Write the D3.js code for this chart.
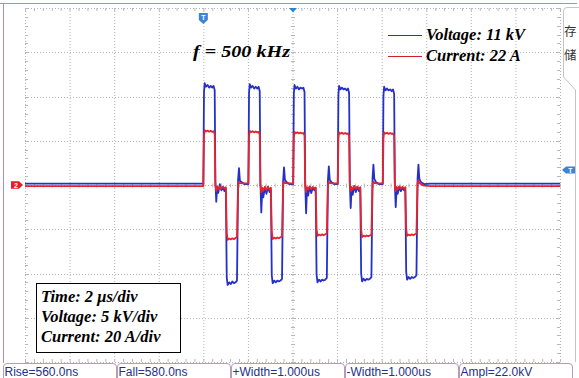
<!DOCTYPE html>
<html>
<head>
<meta charset="utf-8">
<script src="https://cdn.jsdelivr.net/npm/d3@7"></script>
<style>
  body { margin: 0; background: #fff; }
  svg { display: block; }
  .note { font-family: "Liberation Serif", "Times New Roman", serif; font-weight: bold; font-style: italic; font-size: 16.5px; fill: #000; }
  .meas { font-family: "Liberation Sans", Arial, sans-serif; font-size: 12px; fill: #23318a; }
  .cjk { font-family: "Noto Sans CJK SC", sans-serif; font-size: 12.5px; fill: #333; }
</style>
</head>
<body>
<svg id="scope" width="579" height="378"></svg>
<script>
// screen: 12 div x 2 us, 8 div x 5 kV (ch1) / 20 A (ch2)
const timeDomain = [0, 24];
const voltDomain = [-20, 20];
const ampDomain = [-80, 80];

// pulse start times (us) and sample instants inside one period (us after start)
const pulseStarts = [8.00, 10.02, 12.03, 14.03, 16.05];
const dt = [0.00, 0.03, 0.06, 0.12, 0.19, 0.26, 0.33, 0.40, 0.46, 0.51, 0.54, 0.58, 0.62, 0.67, 0.74, 0.81,
            0.88, 0.95, 1.01, 1.05, 1.09, 1.16, 1.23, 1.30, 1.37, 1.44, 1.51, 1.56, 1.60, 1.64, 1.72, 1.85];

// voltage (kV), one row per pulse
const voltagePulses = [
  [0.1, 10.5, 11.5, 11.1, 11.3, 11.0, 11.2, 11.0, 11.2, 10.7, 0.4, -1.9, -0.2, -0.9, 0.1, -0.6, -0.2, -0.7, -0.4, -10.4, -11.3, -11.0, -11.2, -10.9, -11.1, -11.0, -10.8, 0.6, 1.9, 0.5, 0.3, 0.1],
  [0.1, 10.4, 11.4, 11.0, 11.2, 10.9, 11.1, 10.9, 11.1, 10.6, 0.3, -3.1, -0.6, -1.4, -0.3, -1.0, -0.2, -0.8, -0.5, -10.2, -11.1, -10.8, -11.0, -10.8, -10.9, -10.8, -10.6, 0.5, 2.0, 0.6, 0.3, 0.1],
  [0.1, 10.3, 11.3, 10.9, 11.1, 10.8, 11.0, 10.9, 11.0, 10.5, 0.2, -3.2, -0.5, -1.2, -0.2, -0.9, -0.3, -0.6, -0.4, -10.1, -11.0, -10.7, -10.9, -10.7, -10.8, -10.7, -10.5, 0.6, 2.1, 0.6, 0.3, 0.1],
  [0.1, 10.2, 11.2, 10.8, 11.0, 10.8, 10.9, 10.7, 10.9, 10.4, 0.3, -2.6, -0.4, -1.1, -0.1, -0.8, -0.2, -0.7, -0.3, -10.0, -10.9, -10.6, -10.8, -10.6, -10.7, -10.6, -10.4, 0.7, 2.3, 0.7, 0.3, 0.1],
  [0.1, 10.1, 11.1, 10.7, 10.9, 10.7, 10.8, 10.6, 10.8, 10.3, 0.2, -2.5, -0.5, -1.0, -0.2, -0.7, -0.3, -0.6, -0.3, -9.8, -10.7, -10.4, -10.6, -10.4, -10.5, -10.4, -10.2, 0.7, 2.3, 0.7, 0.3, 0.1]
];
// current (A), one row per pulse
const currentPulses = [
  [0.6, 22.0, 24.8, 24.2, 24.6, 24.1, 24.5, 24.0, 24.3, 23.0, 0.5, -2.8, -0.8, -1.8, -0.6, -1.6, -0.9, -1.5, -1.0, -21.5, -24.8, -24.2, -24.6, -24.1, -24.5, -24.0, -23.5, 0.4, 1.3, 0.9, 0.8, 0.7],
  [0.7, 21.8, 24.5, 23.9, 24.3, 23.8, 24.2, 23.8, 24.0, 22.8, 0.4, -3.4, -1.2, -2.4, -0.8, -2.2, -1.0, -2.0, -1.2, -21.0, -24.4, -23.8, -24.2, -23.7, -24.1, -23.6, -23.2, 0.5, 1.4, 0.9, 0.8, 0.7],
  [0.7, 21.4, 24.0, 23.4, 23.8, 23.3, 23.7, 23.3, 23.5, 22.4, 0.4, -3.2, -1.0, -2.0, -0.7, -1.8, -0.9, -1.6, -1.1, -19.8, -23.0, -22.4, -22.8, -22.3, -22.7, -22.3, -21.9, 0.5, 1.4, 0.9, 0.8, 0.7],
  [0.7, 21.2, 23.8, 23.2, 23.6, 23.1, 23.5, 23.1, 23.3, 22.2, 0.4, -3.0, -0.9, -2.1, -0.6, -1.7, -0.8, -1.7, -1.0, -20.2, -23.5, -22.9, -23.3, -22.8, -23.2, -22.8, -22.4, 0.5, 1.5, 0.9, 0.8, 0.7],
  [0.7, 21.2, 23.8, 23.2, 23.6, 23.1, 23.5, 23.1, 23.3, 22.2, 0.4, -2.9, -0.9, -1.9, -0.6, -1.6, -0.8, -1.5, -1.0, -19.8, -23.0, -22.4, -22.8, -22.3, -22.7, -22.3, -21.9, 0.6, 2.2, 0.9, 0.3, -0.3]
];
// flat baseline before and after the burst
const voltageLead = [[0, 0.15], [7.99, 0.15]];
const voltageTail = [[18.2, 0.15], [24, 0.15]];
const currentLead = [[0, -0.5], [7.99, -0.5]];
const currentTail = [[18.2, -0.5], [24, -0.5]];

const measLabels = ["Rise=560.0ns", "Fall=580.0ns", "+Width=1.000us", "-Width=1.000us", "Ampl=22.0kV"];
const infoLines = ["Time: 2 \u03bcs/div", "Voltage: 5 kV/div", "Current: 20 A/div"];
const legendLabels = ["Voltage: 11 kV", "Current: 22 A"];
const triggerTime = 8;
const triggerLevel = 1.7;  // kV

const svg = d3.select("#scope");
const x = d3.scaleLinear().domain(timeDomain).range([25, 560]);
const yV = d3.scaleLinear().domain(voltDomain).range([362, 8]);
const yI = d3.scaleLinear().domain(ampDomain).range([362, 8]);

// frame
svg.append("path").attr("d", "M0,3.5H577M3.5,3.5V363")
  .attr("stroke", "#ad8fae").attr("fill", "none");
svg.append("path").attr("d", "M579,7.5H567Q563.5,7.5 563.5,11V77L575.5,90V362")
  .attr("stroke", "#c4c4c4").attr("fill", "none");
svg.append("text").attr("class", "cjk").attr("x", 564).attr("y", 36).text("存");
svg.append("text").attr("class", "cjk").attr("x", 564).attr("y", 60).text("储");

// grid
const grid = svg.append("g").attr("stroke", "#b4b4b4").attr("stroke-dasharray", "1,2").attr("fill", "none");
d3.range(0, 24.01, 2).forEach(t => {
  grid.append("line").attr("x1", x(t) + 0.5).attr("x2", x(t) + 0.5).attr("y1", 8).attr("y2", 362);
});
d3.range(-20, 20.01, 5).forEach(v => {
  grid.append("line").attr("y1", Math.round(yV(v)) + 0.5).attr("y2", Math.round(yV(v)) + 0.5).attr("x1", 25).attr("x2", 560);
});

// minor ticks
const ticks = svg.append("g").attr("stroke", "#b8b8b8");
const yc = Math.round(yV(0)) + 0.5, xc = x(12) + 0.5;
d3.range(0, 24.01, 0.4).forEach(t => {
  const xx = x(t) + 0.5;
  ticks.append("line").attr("x1", xx).attr("x2", xx).attr("y1", 8).attr("y2", 11);
  ticks.append("line").attr("x1", xx).attr("x2", xx).attr("y1", 359).attr("y2", 362);
  ticks.append("line").attr("x1", xx).attr("x2", xx).attr("y1", yc - 2).attr("y2", yc + 2);
});
d3.range(-20, 20.01, 1).forEach(v => {
  const yy = Math.round(yV(v)) + 0.5;
  ticks.append("line").attr("y1", yy).attr("y2", yy).attr("x1", 25).attr("x2", 28);
  ticks.append("line").attr("y1", yy).attr("y2", yy).attr("x1", 557).attr("x2", 560);
  ticks.append("line").attr("y1", yy).attr("y2", yy).attr("x1", xc - 2).attr("x2", xc + 2);
});

// traces
function buildTrace(lead, pulses, tail) {
  const pts = lead.slice();
  pulseStarts.forEach((t0, k) => dt.forEach((d, i) => pts.push([t0 + d, pulses[k][i]])));
  return pts.concat(tail);
}
const voltage = buildTrace(voltageLead, voltagePulses, voltageTail);
const current = buildTrace(currentLead, currentPulses, currentTail);

svg.append("path").datum(voltage)
  .attr("d", d3.line().x(d => x(d[0])).y(d => yV(d[1])))
  .attr("fill", "none").attr("stroke", "#2430c8").attr("stroke-width", 1.8)
  .attr("stroke-linejoin", "round");
svg.append("path").datum(current)
  .attr("d", d3.line().x(d => x(d[0])).y(d => yI(d[1])))
  .attr("fill", "none").attr("stroke", "#e8242a").attr("stroke-width", 1.8)
  .attr("stroke-linejoin", "round");

// markers
const tx = x(triggerTime);
svg.append("path").attr("d", `M${tx - 4.5},13H${tx + 4.5}V20L${tx},24L${tx - 4.5},20Z`).attr("fill", "#3d84d6");
svg.append("text").attr("x", tx).attr("y", 19.5).attr("text-anchor", "middle")
  .attr("font-family", "Liberation Sans, Arial").attr("font-size", 7).attr("font-weight", "bold")
  .attr("fill", "#fff").text("T");
svg.append("path").attr("d", `M${xc - 4},8H${xc + 4}L${xc},12.5Z`).attr("fill", "#2f7fd6");
const ty = yV(triggerLevel);
svg.append("path").attr("d", `M562,${ty}L566,${ty - 3.5}H575V${ty + 3.5}H566Z`).attr("fill", "#3d84d6");
svg.append("text").attr("x", 570.5).attr("y", ty + 3).attr("text-anchor", "middle")
  .attr("font-family", "Liberation Sans, Arial").attr("font-size", 7).attr("font-weight", "bold")
  .attr("fill", "#fff").text("T");
const gy = yI(0);
svg.append("path").attr("d", `M11,${gy - 3.8}H19L23,${gy}L19,${gy + 3.8}H11Z`).attr("fill", "#dd2222");
svg.append("text").attr("x", 16).attr("y", gy + 3).attr("text-anchor", "middle")
  .attr("font-family", "Liberation Sans, Arial").attr("font-size", 7).attr("font-weight", "bold")
  .attr("fill", "#fff").text("2");

// annotations
svg.append("text").attr("class", "note").attr("x", 193).attr("y", 57)
  .attr("font-size", 18).attr("textLength", 97).attr("lengthAdjust", "spacingAndGlyphs")
  .text("f = 500 kHz");

const legendColors = ["#3333b0", "#cc2222"];
legendLabels.forEach((s, i) => {
  const ly = 35.5 + i * 21;
  svg.append("line").attr("x1", 388).attr("x2", 422).attr("y1", ly).attr("y2", ly)
    .attr("stroke", legendColors[i]).attr("stroke-width", 1);
  svg.append("text").attr("class", "note").attr("x", 426).attr("y", ly + 4.5).text(s);
});

svg.append("rect").attr("x", 36.5).attr("y", 283.5).attr("width", 144).attr("height", 69)
  .attr("fill", "#fff").attr("stroke", "#000");
infoLines.forEach((s, i) => {
  svg.append("text").attr("class", "note").attr("x", 41).attr("y", 302 + i * 20).text(s);
});

// measurement bar
measLabels.forEach((s, i) => {
  const x0 = 3.5 + i * 114, x1 = x0 + 113;
  svg.append("path").attr("d", `M${x0},378V367Q${x0},363.5 ${x0 + 3.5},363.5H${x1 - 3.5}Q${x1},363.5 ${x1},367V378`)
    .attr("fill", "none").attr("stroke", "#b79bbb");
  svg.append("text").attr("class", "meas").attr("x", x0 + 1).attr("y", 376).text(s);
});
</script>
</body>
</html>
